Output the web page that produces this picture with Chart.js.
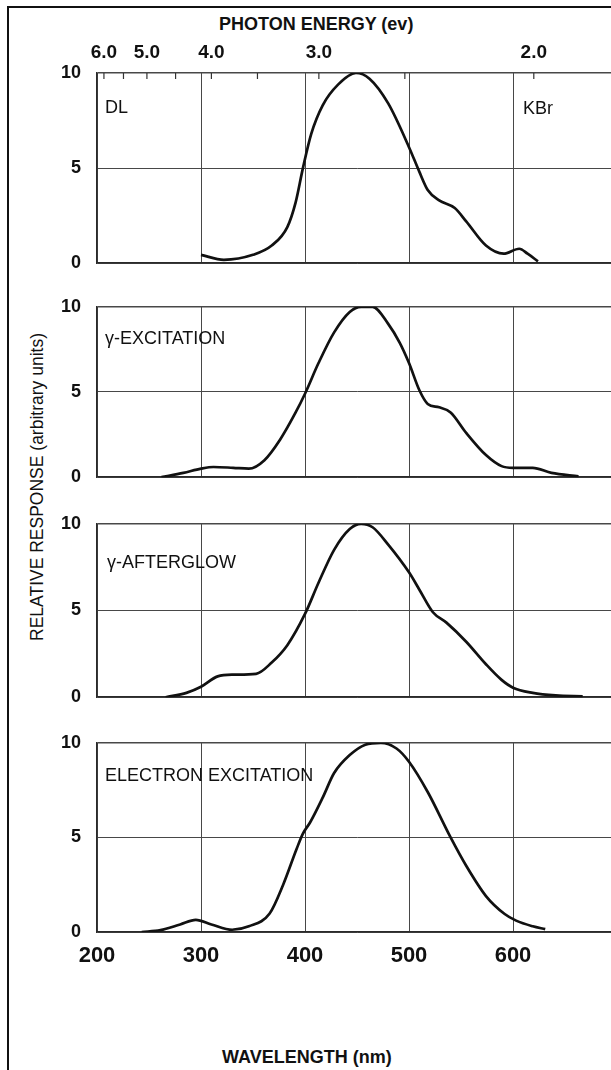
<!DOCTYPE html>
<html>
<head>
<meta charset="utf-8">
<script src="https://cdn.jsdelivr.net/npm/chart.js@4.4.1/dist/chart.umd.min.js"></script>
<style>
  html, body { margin: 0; padding: 0; background: #fff; width: 611px; height: 1070px; overflow: hidden; }
  #fig { position: relative; width: 611px; height: 1070px; overflow: hidden; background: #fff; }
  .frame { position: absolute; left: 7px; top: 6px; width: 800px; height: 1200px;
           border-left: 2px solid #111; border-top: 2px solid #111; }
  canvas { position: absolute; left: 0; }
  .t { position: absolute; font-family: "Liberation Sans", Arial, sans-serif; color: #111;
       white-space: nowrap; line-height: 1; }
  #yTitle { left: 38px; top: 487px; font-size: 17.5px; transform: translate(-50%, -50%) rotate(-90deg); }
</style>
</head>
<body>
<div id="fig">
  <div class="frame"></div>
  <div class="t" style="left:219px; top:15px; font-size:18px; font-weight:bold;">PHOTON ENERGY (ev)</div>
  <div class="t" id="yTitle">RELATIVE RESPONSE (arbitrary units)</div>
  <div class="t" style="left:222px; top:1048px; font-size:18px; font-weight:bold;">WAVELENGTH (nm)</div>
  <canvas id="pDL" width="625" height="290" style="top:0px"></canvas>
  <canvas id="pGX" width="625" height="224" style="top:280px"></canvas>
  <canvas id="pGA" width="625" height="227" style="top:497px"></canvas>
  <canvas id="pEX" width="625" height="256" style="top:716px"></canvas>
</div>
<script>
// Axis ticks
const wavelengthTicks = [200, 300, 400, 500, 600];
const responseTicks = [0, 5, 10];
const energyTicks = [6.0, 5.5, 5.0, 4.5, 4.0, 3.5, 3.0, 2.5, 2.0];
const energyTickLabels = ['6.0', '', '5.0', '', '4.0', '', '3.0', '', '2.0'];

// DL (KBr)
const dlNm   = [300, 322, 350, 368, 383, 391, 398, 406, 417, 432, 449, 462, 480, 500, 510, 518, 529, 544, 555, 574, 591, 606, 614, 624];
const dlResp = [0.44, 0.18, 0.44, 0.93, 1.9, 3.2, 5.0, 6.8, 8.3, 9.4, 10.0, 9.7, 8.4, 6.1, 4.8, 3.85, 3.3, 2.9, 2.2, 0.93, 0.5, 0.76, 0.5, 0.1];

// gamma excitation
const gxNm   = [262, 283, 300, 312, 331, 346, 361, 376, 391, 400, 413, 428, 443, 454, 465, 480, 491, 500, 510, 518, 529, 540, 555, 574, 589, 600, 619, 637, 663];
const gxResp = [0, 0.25, 0.5, 0.6, 0.55, 0.5, 1.0, 2.2, 3.8, 4.9, 6.7, 8.5, 9.7, 10.0, 10.0, 9.0, 7.9, 6.7, 5.1, 4.3, 4.1, 3.8, 2.6, 1.3, 0.65, 0.55, 0.55, 0.25, 0.05];

// gamma afterglow
const gaNm   = [266, 286, 300, 316, 331, 353, 368, 383, 400, 413, 428, 443, 454, 465, 480, 500, 510, 523, 536, 555, 574, 589, 600, 619, 641, 667];
const gaResp = [0, 0.25, 0.6, 1.2, 1.3, 1.35, 2.0, 3.0, 4.8, 6.6, 8.5, 9.7, 10.0, 9.8, 8.8, 7.2, 6.2, 4.9, 4.3, 3.2, 1.9, 1.0, 0.55, 0.25, 0.1, 0.05];

// electron excitation
const exNm   = [243, 261, 280, 295, 310, 330, 346, 366, 379, 392, 398, 405, 417, 428, 443, 458, 473, 488, 500, 518, 540, 555, 574, 592, 603, 619, 631];
const exResp = [0, 0.1, 0.4, 0.64, 0.4, 0.12, 0.3, 0.98, 2.5, 4.4, 5.2, 5.8, 7.1, 8.4, 9.35, 9.9, 10.0, 9.7, 9.0, 7.4, 5.0, 3.5, 1.9, 0.95, 0.6, 0.3, 0.15];

const INK = '#111';
const GRID = '#484848';
const FAMILY = '"Liberation Sans", Arial, sans-serif';
Chart.defaults.font.family = FAMILY;
Chart.defaults.color = INK;

// Caption text inside a panel, offset from the plot's top-left corner
const panelLabels = {
  id: 'panelLabels',
  afterDraw(chart, args, opts) {
    const { ctx, chartArea } = chart;
    ctx.save();
    ctx.fillStyle = INK;
    ctx.font = '18px ' + FAMILY;
    ctx.textAlign = 'left';
    ctx.textBaseline = 'middle';
    (opts.items || []).forEach(it => ctx.fillText(it.text, chartArea.left + it.dx, chartArea.top + it.dy));
    ctx.restore();
  }
};

// Short inward tick marks of the photon-energy axis
const energyTickMarks = {
  id: 'energyTickMarks',
  afterDatasetsDraw(chart) {
    const s = chart.scales.xTop;
    if (!s) return;
    const { ctx, chartArea } = chart;
    ctx.save();
    ctx.strokeStyle = '#333';
    ctx.lineWidth = 1.2;
    s.ticks.forEach((t, i) => {
      const x = s.getPixelForTick(i);
      ctx.beginPath();
      ctx.moveTo(x, chartArea.top);
      ctx.lineTo(x, chartArea.top + 6);
      ctx.stroke();
    });
    ctx.restore();
  }
};

function points(nm, resp) {
  return nm.map((x, i) => ({ x: x, y: resp[i] }));
}

function makePanel(id, nm, resp, cfg) {
  const scales = {
    x: {
      type: 'linear', position: 'bottom', min: 200, max: 700,
      afterBuildTicks: s => { s.ticks = wavelengthTicks.map(v => ({ value: v })); },
      afterFit: s => { s.height = cfg.xHeight; },
      grid: { color: GRID, lineWidth: 1, drawTicks: false },
      border: { display: true, color: '#2a2a2a', width: 1.5 },
      ticks: {
        display: cfg.showX, padding: 11, color: INK, autoSkip: false, maxRotation: 0,
        font: { size: 22, weight: 'bold' }
      }
    },
    y: {
      type: 'linear', min: 0, max: 10,
      afterBuildTicks: s => { s.ticks = responseTicks.map(v => ({ value: v })); },
      afterFit: s => { s.width = 97; },
      grid: { color: GRID, lineWidth: c => (c.tick && c.tick.value === 10 ? 1.5 : 1), drawTicks: false },
      border: { display: true, color: '#2a2a2a', width: 1.5 },
      ticks: { padding: 16, color: INK, font: { size: 18, weight: 'bold' } }
    }
  };
  if (cfg.energyAxis) {
    scales.xTop = {
      type: 'linear', position: 'top', min: 200, max: 700,
      afterBuildTicks: s => { s.ticks = energyTicks.map(e => ({ value: 1240 / e })); },
      afterFit: s => { s.height = 73; },
      grid: { display: false, drawTicks: false },
      border: { display: false },
      ticks: {
        padding: 9, color: INK, autoSkip: false, maxRotation: 0,
        font: { size: 19, weight: 'bold' },
        callback: (v, i) => energyTickLabels[i]
      }
    };
  }
  return new Chart(document.getElementById(id), {
    type: 'line',
    data: {
      datasets: [{
        data: points(nm, resp),
        borderColor: INK,
        borderWidth: 2.7,
        pointRadius: 0,
        fill: false,
        cubicInterpolationMode: 'monotone'
      }]
    },
    options: {
      responsive: false,
      animation: false,
      devicePixelRatio: 1,
      parsing: false,
      layout: { padding: { left: 0, right: 8, top: cfg.padTop, bottom: cfg.padBottom } },
      plugins: {
        legend: { display: false },
        tooltip: { enabled: false },
        panelLabels: { items: cfg.labels }
      },
      scales: scales
    },
    plugins: [panelLabels, energyTickMarks]
  });
}

makePanel('pDL', dlNm, dlResp, {
  energyAxis: true, showX: false, xHeight: 0, padTop: 0, padBottom: 11,
  labels: [{ text: 'DL', dx: 8, dy: 35 }, { text: 'KBr', dx: 426, dy: 36 }]
});
makePanel('pGX', gxNm, gxResp, {
  showX: false, xHeight: 0, padTop: 11, padBottom: 11,
  labels: [{ text: 'γ-EXCITATION', dx: 8, dy: 32 }]
});
makePanel('pGA', gaNm, gaResp, {
  showX: false, xHeight: 0, padTop: 11, padBottom: 11,
  labels: [{ text: 'γ-AFTERGLOW', dx: 10, dy: 39 }]
});
makePanel('pEX', exNm, exResp, {
  showX: true, xHeight: 40, padTop: 11, padBottom: 0,
  labels: [{ text: 'ELECTRON EXCITATION', dx: 8, dy: 33 }]
});
</script>
</body>
</html>
